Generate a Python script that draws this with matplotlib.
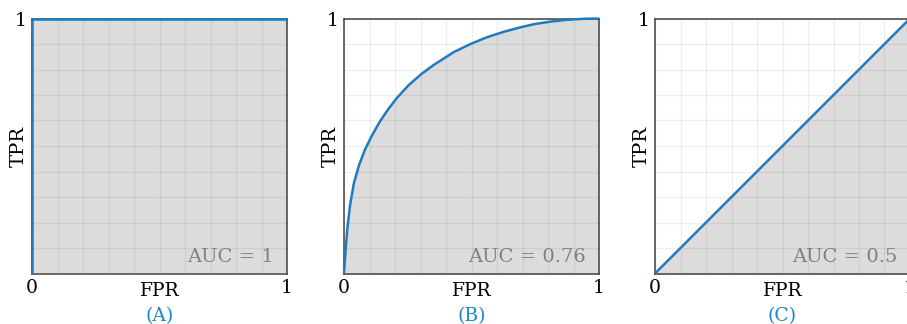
import matplotlib
matplotlib.use("Agg")
import matplotlib.pyplot as plt
import numpy as np

plt.rcParams['font.family'] = ['DejaVu Serif']

# ROC curves
fpr_a = [0.0, 0.0, 1.0]
tpr_a = [0.0, 1.0, 1.0]

fpr_b = [0.0, 0.003, 0.007, 0.013, 0.024, 0.039, 0.059, 0.082, 0.109, 0.142,
         0.174, 0.207, 0.253, 0.303, 0.352, 0.43, 0.496, 0.562, 0.627, 0.69,
         0.746, 0.811, 0.877, 0.943, 1.0]
tpr_b = [0.0, 0.045, 0.10, 0.175, 0.27, 0.355, 0.425, 0.485, 0.54, 0.598,
         0.645, 0.688, 0.738, 0.782, 0.818, 0.868, 0.90, 0.927, 0.948, 0.965,
         0.978, 0.988, 0.995, 0.999, 1.0]

fpr_c = [0.0, 1.0]
tpr_c = [0.0, 1.0]

panels = ['(A)', '(B)', '(C)']
auc_labels = ['AUC = 1', 'AUC = 0.76', 'AUC = 0.5']
curves = [(fpr_a, tpr_a), (fpr_b, tpr_b), (fpr_c, tpr_c)]

line_color = '#1f7bbf'
panel_color = '#1a88d0'
fill_color = '#dcdcdc'

fig = plt.figure(figsize=(9.07, 3.24), dpi=100)
lefts = [32, 344, 655]
W, H = 907.0, 324.0

for i, (fx, ty) in enumerate(curves):
    ax = fig.add_axes([lefts[i] / W, 1 - 273.5 / H, 255 / W, 255 / H])
    ax.set_xlim(0, 1)
    ax.set_ylim(0, 1)

    ax.fill_between(fx, ty, 0, color=fill_color, lw=0, zorder=1)
    ax.plot(fx, ty, color=line_color, lw=1.8, zorder=4, clip_on=False,
            solid_capstyle='butt', solid_joinstyle='round')

    ticks = np.linspace(0, 1, 11)
    ax.set_xticks(ticks)
    ax.set_yticks(ticks)
    ax.set_xticklabels(['0'] + [''] * 9 + ['1'], fontsize=13.5)
    ax.set_yticklabels([''] * 10 + ['1'], fontsize=13.5)
    ax.tick_params(length=0, pad=4)
    ax.grid(True, color='black', alpha=0.065, lw=0.9, zorder=2)
    ax.set_axisbelow(False)
    for s in ax.spines.values():
        s.set_color('#404040')
        s.set_linewidth(1.1)
        s.set_zorder(3)

    ax.text(0.5, -0.035, 'FPR', transform=ax.transAxes, ha='center', va='top',
            fontsize=13.5)
    ax.text(-0.052, 0.5, 'TPR', transform=ax.transAxes, ha='center', va='center',
            rotation=90, fontsize=14)
    ax.text(0.5, -0.13, panels[i], transform=ax.transAxes, ha='center', va='top',
            fontsize=13.5, color=panel_color)
    ax.text(0.95, 0.045, auc_labels[i], transform=ax.transAxes, ha='right',
            va='baseline', fontsize=14, color='#808080', zorder=5)

fig.savefig('out.png', dpi=100)
